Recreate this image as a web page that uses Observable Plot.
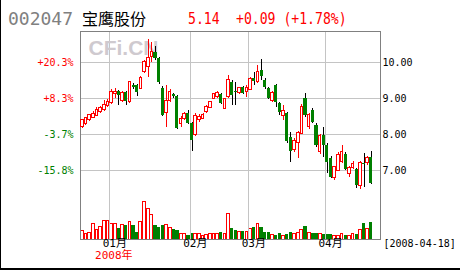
<!DOCTYPE html>
<html>
<head>
<meta charset="utf-8">
<script src="https://cdn.jsdelivr.net/npm/d3@7"></script>
<script src="https://cdn.jsdelivr.net/npm/@observablehq/plot@0.6"></script>
<style>
  html, body { margin: 0; padding: 0; background: #fff; }
  #wrap { position: relative; width: 460px; height: 270px; overflow: hidden; background: #fff; }
  #hdr { position: relative; height: 30px; }
  #hdr span { position: absolute; white-space: pre; line-height: 16px; }
  #chart { position: relative; height: 240px; }
  #chart svg { position: absolute; left: 0; top: 0; }
  .bl { position: absolute; left: 0; top: 0; width: 1px; height: 270px; background: #000; }
  .bb { position: absolute; left: 0; top: 268px; width: 460px; height: 2px; background: #000; }
</style>
</head>
<body>
<div id="wrap">
  <div id="hdr"></div>
  <div id="chart"></div>
  <div class="bl"></div>
  <div class="bb"></div>
</div>
<script>
// ---- header strings ----
const stockCode = "002047";
const stockName = "宝鹰股份";
const lastPrice = "5.14";
const changeText = "+0.09 (+1.78%)";
const dateLabel = "[2008-04-18]";
const yearLabel = "2008年";
const watermark = "CFi.CN";

// ---- trading days ----
const dates = [
  "2007-12-20","2007-12-21","2007-12-24","2007-12-25","2007-12-26","2007-12-27","2007-12-28","2007-12-31",
  "2008-01-02","2008-01-03","2008-01-04","2008-01-07","2008-01-08","2008-01-09","2008-01-10","2008-01-11",
  "2008-01-14","2008-01-15","2008-01-16","2008-01-17","2008-01-18","2008-01-21","2008-01-22","2008-01-23",
  "2008-01-24","2008-01-25","2008-01-28","2008-01-29","2008-01-30","2008-01-31",
  "2008-02-01","2008-02-04","2008-02-05","2008-02-13","2008-02-14","2008-02-15","2008-02-18","2008-02-19",
  "2008-02-20","2008-02-21","2008-02-22","2008-02-25","2008-02-26","2008-02-27","2008-02-28","2008-02-29",
  "2008-03-03","2008-03-04","2008-03-05","2008-03-06","2008-03-07","2008-03-10","2008-03-11","2008-03-12",
  "2008-03-13","2008-03-14","2008-03-17","2008-03-18","2008-03-19","2008-03-20","2008-03-21","2008-03-24",
  "2008-03-25","2008-03-26","2008-03-27","2008-03-28","2008-03-31",
  "2008-04-01","2008-04-02","2008-04-03","2008-04-07","2008-04-08","2008-04-09","2008-04-10","2008-04-11",
  "2008-04-14","2008-04-15","2008-04-16","2008-04-17","2008-04-18"
];
const slotCount = 82;

const open = [
  8.21,8.29,8.40,8.47,8.53,8.63,8.69,8.80,8.89,9.12,
  9.20,8.93,9.18,8.91,9.37,9.37,9.28,9.74,9.88,10.15,
  10.29,10.11,9.28,8.60,8.95,9.12,9.07,8.30,8.44,8.58,
  8.32,8.00,8.40,8.45,8.63,8.75,9.00,9.05,9.11,8.72,
  9.05,9.46,9.20,9.15,9.30,9.18,9.25,9.55,9.46,9.79,
  9.51,9.28,8.93,9.37,8.86,8.52,8.58,7.93,7.58,7.77,
  8.03,9.00,8.23,8.67,8.26,7.52,7.98,7.70,7.33,6.80,
  7.00,7.24,7.45,6.92,7.08,7.03,6.59,7.20,7.21,7.36
];
const high = [
  8.42,8.48,8.56,8.65,8.76,8.78,8.95,8.98,9.25,9.28,
  9.23,9.20,9.20,9.48,9.42,9.40,9.62,10.05,10.64,10.57,
  10.45,10.16,9.35,9.37,9.25,9.15,9.10,8.50,8.62,8.67,
  8.35,8.58,8.55,8.60,8.80,8.93,9.15,9.19,9.14,9.02,
  9.65,9.50,9.46,9.32,9.33,9.37,9.60,9.74,9.93,10.08,
  9.55,9.32,9.20,9.40,8.90,8.81,8.62,8.07,7.90,8.10,
  8.85,9.16,8.60,8.72,8.30,8.00,8.21,7.75,7.40,7.12,
  7.52,7.70,7.50,7.12,7.27,7.06,7.25,7.47,7.40,7.55
];
const low = [
  8.17,8.26,8.38,8.45,8.50,8.60,8.66,8.77,8.85,9.02,
  8.81,8.90,8.81,8.86,9.25,9.05,9.25,9.70,9.60,10.00,
  10.05,9.40,8.50,8.21,8.90,9.02,8.15,8.20,8.40,8.28,
  7.55,7.95,8.35,8.42,8.60,8.72,8.97,9.00,8.85,8.70,
  9.02,8.81,8.81,9.12,9.12,9.04,9.22,9.37,9.43,9.50,
  9.25,8.98,8.90,8.77,8.53,8.40,7.76,7.24,7.50,7.33,
  8.00,8.49,8.15,8.30,7.65,7.45,7.38,6.92,6.80,6.73,
  6.97,7.20,7.00,6.82,7.05,6.50,6.47,6.55,7.15,6.62
];
const close = [
  8.40,8.46,8.54,8.58,8.69,8.74,8.84,8.92,9.18,9.20,
  9.09,9.17,8.93,9.46,9.30,9.18,9.58,10.02,10.14,10.30,
  10.11,9.46,8.54,8.95,9.18,9.06,8.18,8.44,8.58,8.32,
  7.84,8.53,8.50,8.56,8.77,8.91,9.12,9.16,8.88,9.00,
  9.51,9.09,9.18,9.30,9.16,9.30,9.55,9.48,9.74,9.63,
  9.30,9.00,9.17,8.91,8.63,8.65,7.80,7.54,7.82,8.05,
  8.77,8.54,8.56,8.35,7.70,7.98,7.70,7.24,6.82,7.10,
  7.45,7.52,7.03,7.08,7.19,6.59,7.22,7.18,7.36,6.66
];
const volume = [
  83,57,63,160,93,123,187,190,160,160,
  113,150,143,177,137,73,177,377,310,243,
  143,123,143,143,113,100,93,53,53,43,
  60,60,53,40,45,60,60,60,73,60,
  260,113,90,73,83,75,110,123,152,122,
  73,73,43,43,62,33,55,73,55,65,
  93,133,63,57,63,53,50,53,53,33,
  33,53,43,33,53,53,100,157,110,167
];

// ---- axis labels ----
const priceTicks = [10, 9, 8, 7];
const priceLabels = ["10.00", "9.00", "8.00", "7.00"];
const pctLabels = ["+20.3%", "+8.3%", "-3.7%", "-15.8%"];
const monthStarts = ["2008-01-02", "2008-02-01", "2008-03-03", "2008-04-01"];
const monthLabels = ["01月", "02月", "03月", "04月"];

// ---- colors ----
const RED = "#ff0000", GREEN = "#008000", GRID = "#c4c4c4", FRAME = "#808080";
const FONT = "'DejaVu Sans Mono', 'Noto Sans CJK SC', monospace";

// ---- header ----
const hdr = document.getElementById("hdr");
function addSpan(text, css) {
  const s = document.createElement("span");
  s.textContent = text;
  s.style.cssText = css;
  hdr.appendChild(s);
}
addSpan(stockCode, "left:8px;top:10px;font-size:18px;line-height:18px;font-family:'DejaVu Sans Mono';color:#808080;");
addSpan(stockName, "left:82px;top:10px;font-size:16px;font-family:'Noto Sans CJK SC';color:#000;");
addSpan(lastPrice, "left:188px;top:11px;font-size:16px;font-family:'DejaVu Sans Mono';color:#ff0000;transform:scaleX(0.82);transform-origin:0 0;");
addSpan(changeText, "left:236px;top:11px;font-size:16px;font-family:'DejaVu Sans Mono';color:#ff0000;transform:scaleX(0.82);transform-origin:0 0;");

// ---- data table ----
const candles = dates.map((d, i) => ({
  i, date: d, open: open[i], high: high[i], low: low[i], close: close[i], volume: volume[i],
  up: close[i] >= open[i]
}));
const ups = candles.filter(d => d.up);
const downs = candles.filter(d => !d.up);
const monthIdx = monthStarts.map(m => dates.indexOf(m));

const common = {
  width: 460, height: 240,
  marginLeft: 80, marginRight: 80, marginTop: 1, marginBottom: 31,
  x: {domain: [0, slotCount], axis: null}
};

// ---- price plot ----
const pricePlot = Plot.plot({
  ...common,
  y: {domain: [5.092, 10.869], axis: null},
  style: {background: "transparent", fontFamily: FONT, overflow: "visible", shapeRendering: "crispEdges"},
  marks: [
    Plot.ruleY(priceTicks, {stroke: GRID}),
    Plot.ruleX(monthIdx, {stroke: GRID}),
    Plot.frame({stroke: FRAME}),
    Plot.text([watermark], {frameAnchor: "top-left", dx: 8, dy: 17, textAnchor: "start", lineAnchor: "middle",
      fontFamily: "'Liberation Sans', Arial, sans-serif", fontWeight: "bold", fontSize: 21, fill: "#cfcacf"}),
    Plot.ruleX(candles, {x: d => d.i + 0.5, y1: "low", y2: "high", stroke: d => d.up ? RED : "#000"}),
    Plot.rect(downs, {x1: d => d.i + 0.08, x2: d => d.i + 0.92, y1: "open", y2: "close", fill: GREEN}),
    Plot.rect(ups, {x1: d => d.i + 0.14, x2: d => d.i + 0.86, y1: "open", y2: "close", fill: "#fff", stroke: RED}),
    Plot.text(priceTicks, {x: 0, y: d => d, text: (d, k) => pctLabels[k], textAnchor: "end", dx: -7,
      fontSize: 10, fill: (d, k) => pctLabels[k].startsWith("-") ? GREEN : RED}),
    Plot.text(priceTicks, {x: slotCount, y: d => d, text: (d, k) => priceLabels[k], textAnchor: "start", dx: 2,
      fontSize: 10, fill: "#000"}),
    Plot.text(monthIdx, {x: d => d, text: (d, k) => monthLabels[k], frameAnchor: "bottom", dy: 7, dx: 5,
      fontSize: 11, fill: "#000"}),
    Plot.text([yearLabel], {x: monthIdx[0], frameAnchor: "bottom", dy: 19, dx: 4, fontSize: 11, fill: RED}),
    Plot.text([dateLabel], {frameAnchor: "bottom-right", dy: 7, dx: 3, textAnchor: "start", fontSize: 10, fill: "#000"})
  ]
});

// ---- volume plot ----
const volPlot = Plot.plot({
  ...common,
  y: {domain: [0, 400], range: [209, 169], axis: null},
  style: {background: "transparent", fontFamily: FONT, overflow: "visible", shapeRendering: "crispEdges"},
  marks: [
    Plot.rectY(downs, {x1: d => d.i + 0.06, x2: d => d.i + 0.94, y: "volume", fill: GREEN}),
    Plot.rectY(ups, {x1: d => d.i + 0.12, x2: d => d.i + 0.88, y: "volume", fill: "#fff", stroke: RED})
  ]
});

const chart = document.getElementById("chart");
chart.appendChild(volPlot);
chart.appendChild(pricePlot);
</script>
</body>
</html>
